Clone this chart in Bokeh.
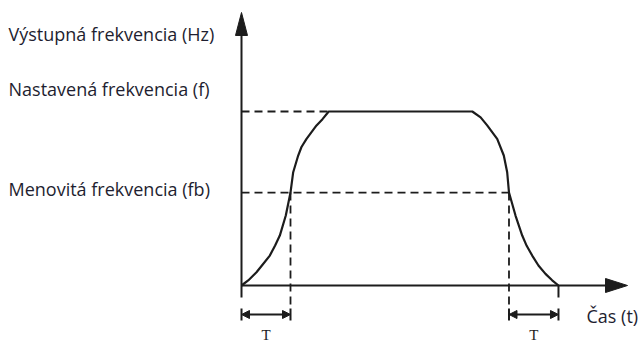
from bokeh.plotting import figure
from bokeh.models import Range1d, Arrow, NormalHead
from bokeh.core.properties import value
from bokeh.embed import file_html
from bokeh.resources import INLINE

# --- data (time in units of T, frequency relative to set frequency f) ---
T_RISE = [0, 0.137, 0.306, 0.429, 0.578, 0.686, 0.782, 0.904, 1.0, 1.055, 1.157, 1.224, 1.327, 1.531, 1.653, 1.78]
F_RISE = [0, 0.029, 0.076, 0.119, 0.172, 0.230, 0.287, 0.402, 0.534, 0.651, 0.747, 0.796, 0.843, 0.920, 0.956, 1.0]
T_FALL = [4.71, 4.88, 5.014, 5.218, 5.353, 5.422, 5.459, 5.592, 5.729, 5.82, 5.933, 6.06, 6.204, 6.34, 6.469]
F_FALL = [1.0, 0.966, 0.920, 0.843, 0.747, 0.651, 0.534, 0.402, 0.287, 0.228, 0.172, 0.115, 0.067, 0.03, 0]

F_SET = 1.0        # Nastavená frekvencia (f)
F_B = 0.534        # Menovitá frekvencia (fb)
T_B_UP = 1.0       # time where rising curve reaches fb
T_B_DOWN = 5.459   # time where falling curve reaches fb
T_END = 6.469      # time where output returns to 0

LABELS_LEFT = ["Výstupná frekvencia (Hz)", "Nastavená frekvencia (f)", "Menovitá frekvencia (fb)"]
LABELS_LEFT_Y = [1.448, 1.132, 0.557]
LABEL_X = "Čas (t)"
LABEL_T = "T"

# --- geometry helpers (pixels -> data) ---
PX_X = 1 / 49.0
PX_Y = 1 / 174.0
X_TIP = 7.878
Y_TIP = 1.569
BELOW = -12 * PX_Y        # short extension below the time axis
DIM_Y = -29 * PX_Y        # dimension arrows
BAR_TOP = -23 * PX_Y
BAR_BOT = -35 * PX_Y

INK = "#1c1c1c"
TXT = "#1e1e30"

p = figure(width=643, height=344, output_backend="svg", toolbar_location=None,
           x_range=Range1d(-241 * PX_X, 402 * PX_X),
           y_range=Range1d(-59 * PX_Y, 285 * PX_Y),
           x_axis_type=None, y_axis_type=None, min_border=0)
p.grid.visible = False
p.outline_line_color = None
p.background_fill_color = "white"

# dashed guide lines
p.line([0, T_RISE[-1]], [F_SET, F_SET], line_color=INK, line_width=1.8, line_dash="8 5")
p.line([0, T_B_DOWN], [F_B, F_B], line_color=INK, line_width=1.8, line_dash="8 5")
p.line([T_B_UP, T_B_UP], [F_B, BAR_TOP], line_color=INK, line_width=1.8, line_dash="8 5")
p.line([T_B_DOWN, T_B_DOWN], [F_B, BAR_TOP], line_color=INK, line_width=1.8, line_dash="8 5")

# axes
p.line([0, 0], [BELOW, Y_TIP - 20 * PX_Y], line_color=INK, line_width=2)
p.patch([0, -6 * PX_X, 6 * PX_X], [Y_TIP, Y_TIP - 23 * PX_Y, Y_TIP - 23 * PX_Y],
        fill_color=INK, line_color=INK)
p.line([0, X_TIP - 20 * PX_X], [0, 0], line_color=INK, line_width=2)
p.patch([X_TIP, X_TIP - 22 * PX_X, X_TIP - 22 * PX_X], [0, 7 * PX_Y, -7 * PX_Y],
        fill_color=INK, line_color=INK)
p.line([T_END, T_END], [0, BELOW], line_color=INK, line_width=2)

# frequency curve
p.line(T_RISE + T_FALL, F_RISE + F_FALL, line_color=INK, line_width=2.2, line_join="round")

# dimension markers
for a, b in [(0, T_B_UP), (T_B_DOWN, T_END)]:
    p.segment([a, b], [BAR_TOP, BAR_TOP], [a, b], [BAR_BOT, BAR_BOT], line_color=INK, line_width=2)
    p.add_layout(Arrow(x_start=a, y_start=DIM_Y, x_end=b, y_end=DIM_Y,
                       start=NormalHead(size=8, fill_color=INK, line_color=INK),
                       end=NormalHead(size=8, fill_color=INK, line_color=INK),
                       line_color=INK, line_width=1.8))
    p.text([(a + b) / 2], [-49 * PX_Y], text=[LABEL_T], text_align="center",
           text_baseline="middle", text_font=value("Liberation Serif"),
           text_font_size="15px", text_color=INK)

# labels
p.text([-233 * PX_X] * 3, LABELS_LEFT_Y, text=LABELS_LEFT, text_align="left",
       text_baseline="middle", text_font=value("Open Sans"), text_font_size="18px",
       text_color=TXT)
p.text([345 * PX_X], [-30 * PX_Y], text=[LABEL_X], text_align="left",
       text_baseline="middle", text_font=value("Open Sans"), text_font_size="18px",
       text_color=TXT)

open("out.html", "w").write(file_html(p, INLINE))
